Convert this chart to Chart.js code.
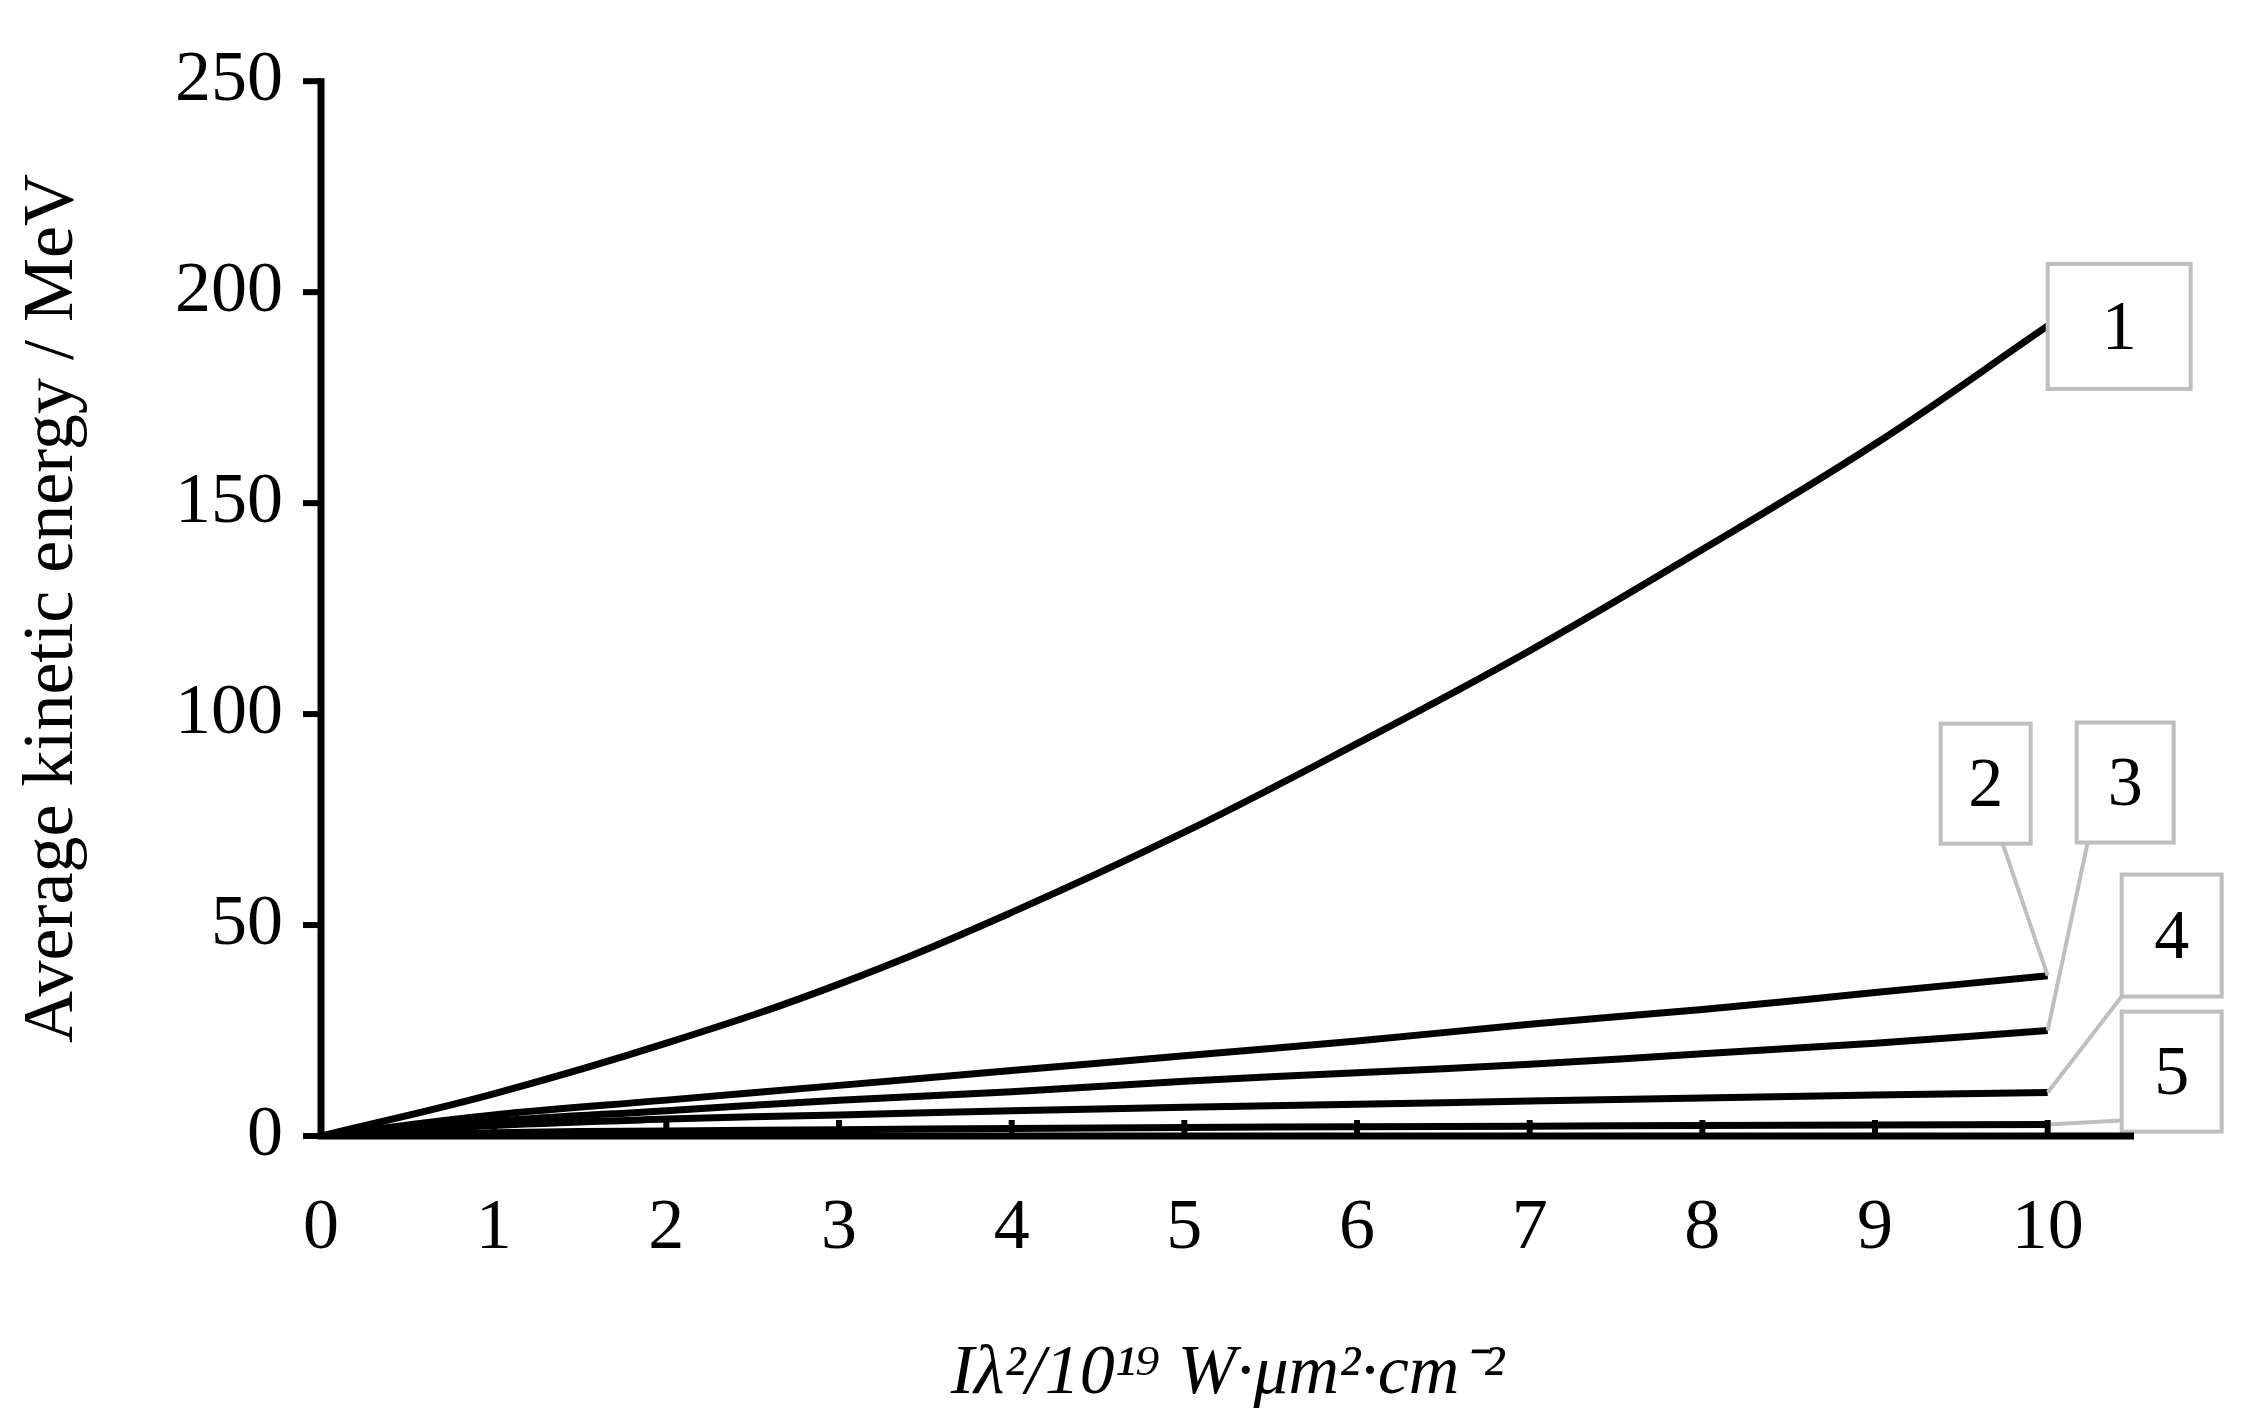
<!DOCTYPE html>
<html><head><meta charset="utf-8">
<script src="https://cdn.jsdelivr.net/npm/chart.js@4"></script>
<style>html,body{margin:0;padding:0;background:#fff}#w{width:2245px;height:1421px}</style>
</head><body><div id="w"><canvas id="c"></canvas></div>
<script>
const xValues=[0,1,2,3,4,5,6,7,8,9,10];
const series1=[0,10,22,36,53,72,93,115,139,164,192];
const series2=[0,5,8.5,12,15.5,19,22.5,26.5,30,34,38];
const series3=[0,3.5,6,8.5,10.5,13,15,17,19.5,22,25];
const series4=[0,2.5,4,5,6,6.8,7.5,8.3,9,9.7,10.3];
const series5=[0,0.8,1.2,1.5,1.8,2,2.2,2.3,2.5,2.6,2.7];
const seriesLabels=['1','2','3','4','5'];
const yTicks=[0,50,100,150,200,250];
const F='"Liberation Serif", "Times New Roman", Times, serif';
const all=[series1,series2,series3,series4,series5];
const callouts={id:'callouts',afterDatasetsDraw(ch){
  const c=ch.ctx,x=ch.scales.x,y=ch.scales.y;
  // [left, top, w, h] offsets from anchor, leader start offsets
  const boxes=[[0,-62,143,125,0,0],[-107,-252,90,120,-45,-132],[29,-308,97,120,40,-188],[74,-218,100,122,74,-96],[74,-113,100,120,74,-4]];
  c.save();
  all.forEach((s,i)=>{
    const ax=x.getPixelForValue(xValues[10]),ay=y.getPixelForValue(s[10]);
    const b=boxes[i];const bx=ax+b[0],by=ay+b[1];
    c.strokeStyle='#bfbfbf';c.lineWidth=4;
    c.beginPath();c.moveTo(ax,ay);c.lineTo(ax+b[4],ay+b[5]);c.stroke();
    c.fillStyle='#fff';c.fillRect(bx,by,b[2],b[3]);c.strokeRect(bx,by,b[2],b[3]);
    c.fillStyle='#000';c.font='70px '+F;c.textAlign='center';c.textBaseline='middle';
    c.fillText(seriesLabels[i],bx+b[2]/2,by+b[3]/2+4);
  });
  c.restore();
},afterDraw(ch){
  const c=ch.ctx,x=ch.scales.x,y=ch.scales.y;
  c.save();c.strokeStyle='#000';c.lineWidth=7;
  const y0=y.getPixelForValue(0),x0=x.getPixelForValue(0);
  c.beginPath();c.moveTo(x0,y.getPixelForValue(250)-3);c.lineTo(x0,y0);c.lineTo(x.getPixelForValue(10.5),y0);c.stroke();
  c.lineWidth=6;
  yTicks.forEach(v=>{const p=y.getPixelForValue(v);c.beginPath();c.moveTo(x0-18,p);c.lineTo(x0,p);c.stroke();});
  xValues.forEach(v=>{const p=x.getPixelForValue(v);c.beginPath();c.moveTo(p,y0-16);c.lineTo(p,y0+3);c.stroke();});
  c.restore();
}};
function draw(){
new Chart(document.getElementById('c'),{
  type:'line',
  data:{labels:xValues,datasets:all.map((s,i)=>({label:seriesLabels[i],data:s.map((v,j)=>({x:xValues[j],y:v})),borderColor:'#000',borderWidth:7,pointRadius:0,tension:0.4,fill:false}))},
  options:{responsive:true,maintainAspectRatio:false,animation:false,
    layout:{padding:{top:62,right:111,left:0,bottom:0}},
    plugins:{legend:{display:false},tooltip:{enabled:false}},
    scales:{
      x:{type:'linear',min:0,max:10.5,afterBuildTicks(s){s.ticks=xValues.map(v=>({value:v}));},
        grid:{display:false,drawTicks:false},border:{display:false},
        ticks:{color:'#000',font:{family:F,size:72},padding:50,maxRotation:0},
        title:{display:true,text:'Iλ²/10¹⁹ W·μm²·cm⁻²',color:'#000',font:{family:F,size:70,style:'italic'},padding:{top:30}},
        afterFit(s){s.height=285;}},
      y:{min:0,max:250,afterBuildTicks(s){s.ticks=yTicks.map(v=>({value:v}));},
        grid:{display:false,drawTicks:false},border:{display:false},
        ticks:{color:'#000',font:{family:F,size:72},padding:38},
        title:{display:true,text:'Average kinetic energy / MeV',color:'#000',font:{family:F,size:72},padding:{top:10,bottom:10}},
        afterFit(s){s.width=321;}}
    }},
  plugins:[callouts]
});}
Promise.all([document.fonts.load('72px "Liberation Serif"'),document.fonts.load('italic 72px "Liberation Serif"')]).then(draw,draw);
</script></body></html>
